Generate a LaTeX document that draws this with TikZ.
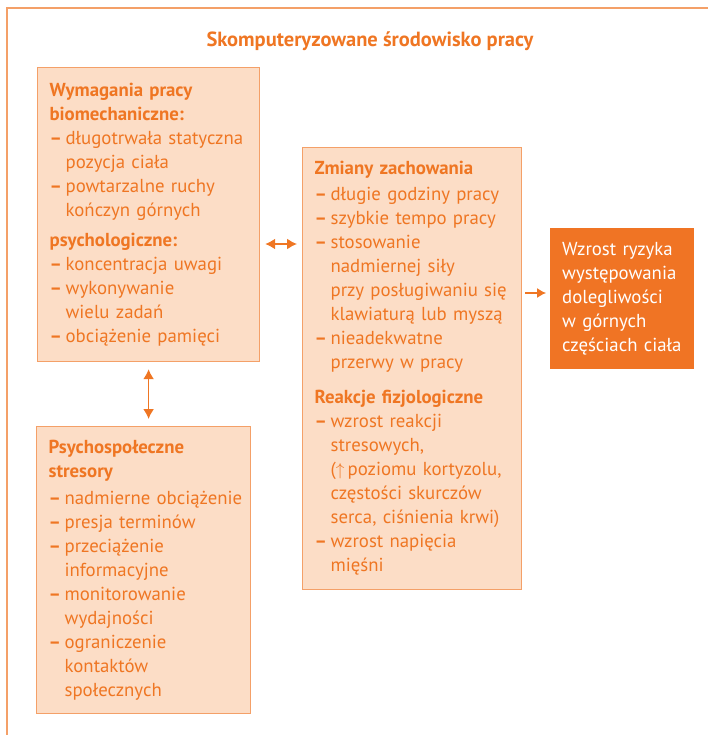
\documentclass[tikz,border=0pt]{standalone}
\usepackage{fontspec}
\setmainfont{PT Sans}
\usetikzlibrary{arrows.meta}
\definecolor{ink}{RGB}{239,118,35}
\definecolor{peach}{RGB}{252,221,198}
\definecolor{edge}{RGB}{244,160,104}
\definecolor{deep}{RGB}{240,116,36}
\newcommand{\hd}[1]{\mbox{\bfseries #1}}
\newcommand{\itm}[1]{\mbox{\makebox[16pt][l]{\bfseries –}#1}}
\newcommand{\cnt}[1]{\mbox{\hspace*{16pt}#1}}
\begin{document}
\begin{tikzpicture}
    [
    x=1pt, y=-1pt,
    box/.style={draw=edge,line width=1.2pt,fill=peach,text=ink,anchor=north west,
      align=left,inner xsep=12pt,inner ysep=0pt,
      font=\fontsize{18.8}{24}\selectfont},
    result/.style={fill=deep,text=white,anchor=north west,align=left,
      inner xsep=12pt,inner ysep=0pt,font=\fontsize{18.8}{24}\selectfont},
    link/.style={draw=ink,line width=1.6pt,{Latex[length=10pt,width=11pt]}-{Latex[length=10pt,width=11pt]}},
    toward/.style={draw=ink,line width=1.1pt,-{Latex[length=9pt,width=10pt]}}
    ]
    \useasboundingbox (0,0) rectangle (708,735);
    \draw [edge, line width=1.6pt] (7,735) -- (7,8) -- (708,8);
    \node (title) at (370,41) [text=ink,font=\fontsize{20.5}{24}\selectfont\bfseries] {Skomputeryzowane środowisko pracy};
    \node (demands) at (37,67) [box,text width=198pt,minimum height=294pt] {%
      \hd{Wymagania pracy}\\
      \hd{biomechaniczne:}\\
      \itm{długotrwała statyczna}\\
      \cnt{pozycja ciała}\\
      \itm{powtarzalne ruchy}\\
      \cnt{kończyn górnych}\\[6pt]
      \hd{psychologiczne:}\\
      \itm{koncentracja uwagi}\\
      \itm{wykonywanie}\\
      \cnt{wielu zadań}\\
      \itm{obciążenie pamięci}};
    \node (stress) at (36,426) [box,text width=190pt,minimum height=287pt] {%
      \hd{Psychospołeczne}\\
      \hd{stresory}\\[3pt]
      \itm{nadmierne obciążenie}\\
      \itm{presja terminów}\\
      \itm{przeciążenie}\\
      \cnt{informacyjne}\\
      \itm{monitorowanie}\\
      \cnt{wydajności}\\
      \itm{ograniczenie}\\
      \cnt{kontaktów}\\
      \cnt{społecznych}};
    \node (change) at (302,147) [box,text width=195pt,minimum height=442pt] {%
      \hd{Zmiany zachowania}\\[2pt]
      \itm{długie godziny pracy}\\
      \itm{szybkie tempo pracy}\\
      \itm{stosowanie}\\
      \cnt{nadmiernej siły}\\
      \cnt{przy posługiwaniu się}\\
      \cnt{klawiaturą lub myszą}\\
      \itm{nieadekwatne}\\
      \cnt{przerwy w pracy}\\[11pt]
      \hd{Reakcje fizjologiczne}\\
      \itm{wzrost reakcji}\\
      \cnt{stresowych,}\\
      \cnt{($\uparrow$\,poziomu kortyzolu,}\\
      \cnt{częstości skurczów}\\
      \cnt{serca, ciśnienia krwi)}\\
      \itm{wzrost napięcia}\\
      \cnt{mięśni}};
    \node (risk) at (550,228) [result,text width=120pt,minimum height=141pt] {%
      Wzrost ryzyka\\
      występowania\\
      dolegliwości\\
      w górnych\\
      częściach ciała};
    \coordinate (ah) at (0,244);
    \coordinate (rh) at (0,293);
    \draw [link, shorten <=5pt, shorten >=5pt] (demands.east |- ah) -- (change.west |- ah);
    \draw [link, shorten <=7pt, shorten >=7pt] (demands.south) -- (demands.south |- stress.north);
    \draw [toward, shorten <=3pt, shorten >=4pt] (change.east |- rh) -- (risk.west |- rh);
\end{tikzpicture}
\end{document}
